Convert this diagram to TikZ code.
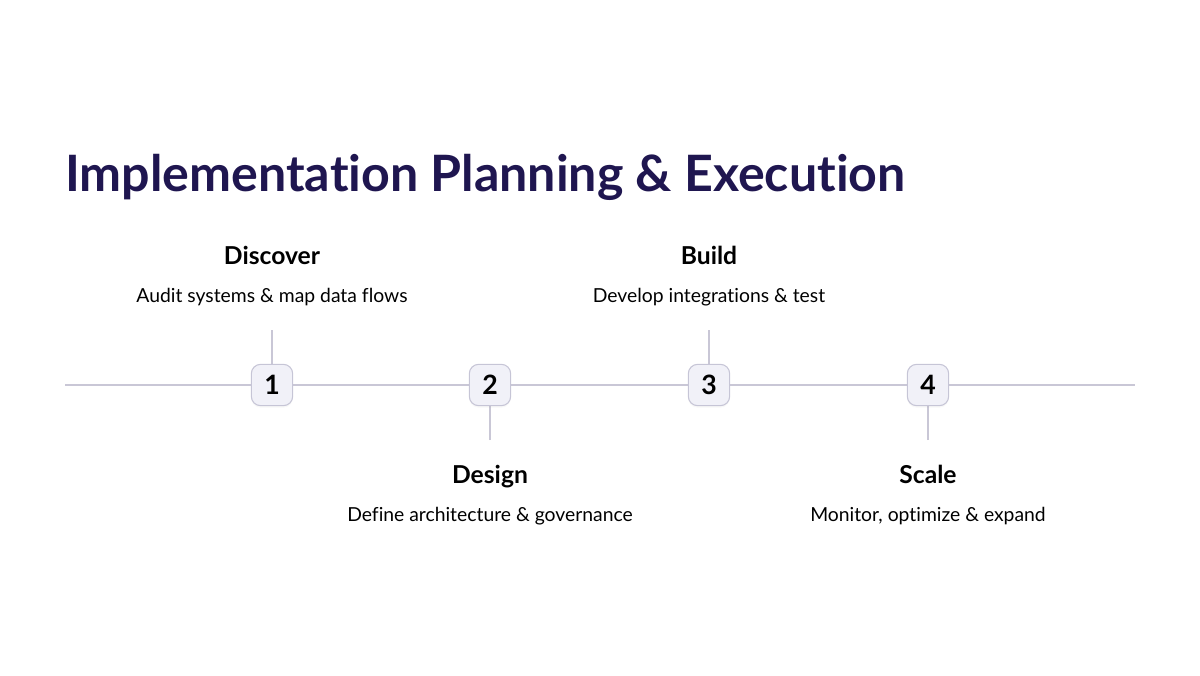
\documentclass[tikz,border=0pt]{standalone}
\usepackage{fontspec}
\setmainfont{Lato}[Ligatures=NoCommon]
\usetikzlibrary{shadows}
\definecolor{titleink}{HTML}{1F1650}
\definecolor{railgray}{HTML}{C9C7D6}
\definecolor{boxfill}{HTML}{F1F1F8}
\definecolor{boxedge}{HTML}{C6C5D6}
\tikzset{
    stepbox/.style={draw=boxedge, fill=boxfill, line width=0.8pt, rounded corners=7pt,
        minimum width=31pt, minimum height=31pt, inner sep=0pt,
        font=\fontsize{20}{20}\selectfont\bfseries,
        drop shadow={opacity=0.06, shadow xshift=0pt, shadow yshift=-1.5pt}},
    rail/.style={draw=railgray, line width=1.1pt},
    heading/.style={font=\fontsize{18.5}{20}\selectfont\bfseries, anchor=base},
    blurb/.style={font=\fontsize{14.5}{16}\selectfont, anchor=base}
}
\begin{document}
\begin{tikzpicture}[
    x=0.75pt,
    y=-0.75pt
]
\useasboundingbox (0,0) rectangle (1200,675);

% Title
\node[anchor=base west, inner sep=0pt, text=titleink,
    font=\fontsize{37.6}{42}\selectfont\bfseries] (title) at (65,191)
    {Implementation Planning \& Execution};

% Rail
\coordinate (railL) at (65,385);
\coordinate (railR) at (1135,385);
\draw[rail] (railL) -- (railR);

% Steps
\foreach \i/\x/\stem/\hy/\dy/\name/\desc in {
    1/272/330/264/302/Discover/Audit systems \& map data flows,
    2/490/440/483/521/Design/Define architecture \& governance,
    3/709/330/264/302/Build/Develop integrations \& test,
    4/928/440/483/521/Scale/{Monitor, optimize \& expand}
} {
    \coordinate (stem\i) at (\x,\stem);
    \draw[rail] (stem\i) -- (\x,385);
    \node[stepbox] (s\i) at (\x,385) {\i};
    \node[heading] (h\i) at (\x,\hy) {\name};
    \node[blurb] (d\i) at (\x,\dy) {\desc};
}

\end{tikzpicture}
\end{document}
